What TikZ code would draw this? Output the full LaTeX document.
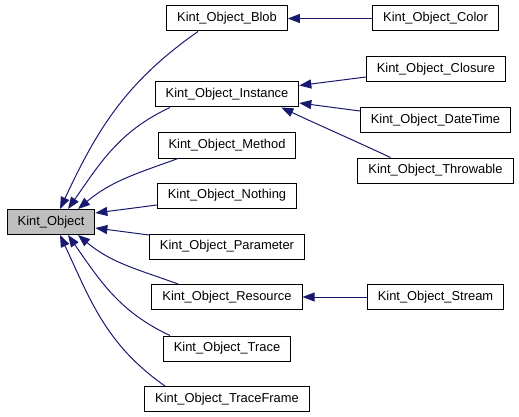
\documentclass[tikz,border=0pt]{standalone}
\usepackage{fontspec}
\setmainfont{Liberation Sans}
\usepackage{tikz}
\usetikzlibrary{arrows.meta}
\definecolor{edgeblue}{HTML}{191970}
\definecolor{basegray}{HTML}{BFBFBF}

\begin{document}
\begin{tikzpicture}
  [
    x=1pt,y=1pt,
    cls/.style={
      draw,
      line width=1pt,
      minimum height=25pt,
      inner xsep=10.5pt,
      inner ysep=0pt,
      font=\fontsize{12.9}{15}\selectfont
    },
    base/.style={
      cls,
      fill=basegray
    },
    inh/.style={
      {Triangle[length=12pt,width=9pt]}-,
      color=edgeblue,
      line width=1pt
    }
  ]
  \useasboundingbox (0,0) rectangle (519,-417);
  % base class
  \node [base] (obj) at (51,-222) {Kint\_Object};
  % derived classes
  \node [cls] (blob) at (227,-18.5) {Kint\_Object\_Blob};
  \node [cls] (inst) at (227,-94.5) {Kint\_Object\_Instance};
  \node [cls] (method) at (227,-145.5) {Kint\_Object\_Method};
  \node [cls] (nothing) at (227,-195.5) {Kint\_Object\_Nothing};
  \node [cls] (param) at (227,-246.5) {Kint\_Object\_Parameter};
  \node [cls] (res) at (227,-297) {Kint\_Object\_Resource};
  \node [cls] (trace) at (227,-348.5) {Kint\_Object\_Trace};
  \node [cls] (tframe) at (227,-399) {Kint\_Object\_TraceFrame};
  % second level
  \node [cls] (color) at (435.5,-18.5) {Kint\_Object\_Color};
  \node [cls] (closure) at (436,-69) {Kint\_Object\_Closure};
  \node [cls] (datetime) at (435.5,-120) {Kint\_Object\_DateTime};
  \node [cls] (throw) at (435.5,-170.5) {Kint\_Object\_Throwable};
  \node [cls] (stream) at (435.5,-297) {Kint\_Object\_Stream};
    % edges
    % into Kint_Object
    \draw [inh] ([xshift=9]obj.north) to[out=65,in=215] ([xshift=-29]blob.south);
    \draw [inh] ([xshift=17]obj.north) to[out=55,in=205] ([xshift=-57]inst.south);
    \draw [inh] ([xshift=27]obj.north) to[out=40,in=200] ([xshift=-49]method.south);
    \draw [inh] ([yshift=9]obj.east) -- ([yshift=-9.5]nothing.west);
    \draw [inh] ([yshift=-6]obj.east) -- ([yshift=11.5]param.west);
    \draw [inh] ([xshift=27]obj.south) to[out=-40,in=160] ([xshift=-49]res.north);
    \draw [inh] ([xshift=17]obj.south) to[out=-55,in=155] ([xshift=-57]trace.north);
    \draw [inh] ([xshift=9]obj.south) to[out=-65,in=145] ([xshift=-62]tframe.north);
    % second level
    \draw [inh] (blob.east) -- (color.west);
    \draw [inh] ([yshift=9]inst.east) -- ([yshift=-8]closure.west);
    \draw [inh] ([yshift=-8.5]inst.east) -- ([yshift=9]datetime.west);
    \draw [inh] ([xshift=-18]inst.south east) to[out=-25,in=155] ([xshift=-45]throw.north);
    \draw [inh] (res.east) -- (stream.west);
  \end{tikzpicture}
\end{document}
